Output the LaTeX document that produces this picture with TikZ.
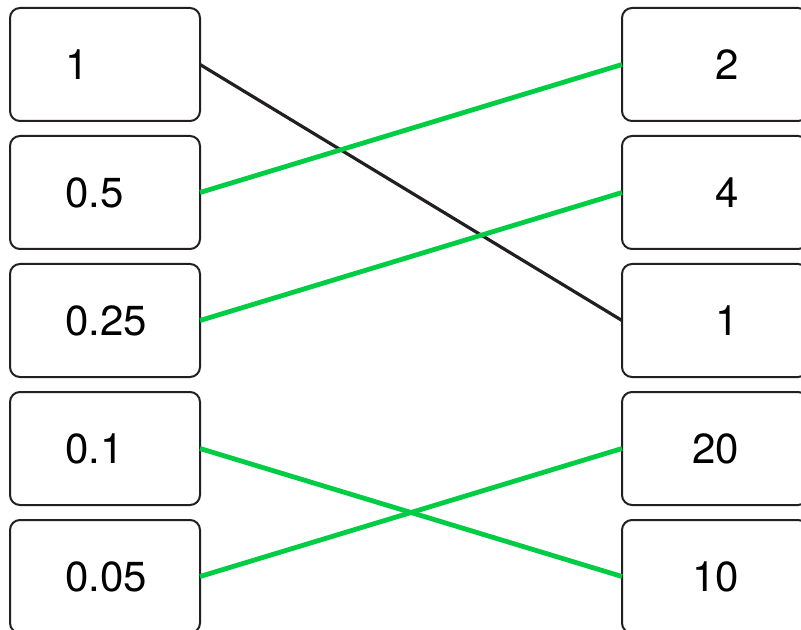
\documentclass[tikz,border=0pt]{standalone}
\usepackage{fontspec}
\setmainfont{TeX Gyre Heros}
\usetikzlibrary{positioning}
\definecolor{verdeLinea}{RGB}{0,204,68}
\definecolor{bordeCaja}{RGB}{35,31,32}

\begin{document}
\begin{tikzpicture}[
    cajaIzq/.style={draw=bordeCaja, line width=1pt, rounded corners=5pt, outer sep=0pt,
        minimum height=56.5pt, text width=40pt, inner xsep=27.5pt, align=left,
        font=\fontsize{21}{25}\selectfont},
    cajaDer/.style={draw=bordeCaja, line width=1pt, rounded corners=5pt, outer sep=0pt,
        minimum height=56.5pt, text width=24pt, inner xsep=34.5pt, align=right,
        font=\fontsize{21}{25}\selectfont},
    lineaVerde/.style={draw=verdeLinea, line width=2.4pt},
    lineaNegra/.style={draw=bordeCaja, line width=1.6pt}
]
            \useasboundingbox (0,0) rectangle (400.5pt,-315pt);
            \clip (0,0) rectangle (400.5pt,-315pt);

            % COLUMNA IZQUIERDA
            \node[cajaIzq] (izq1) at (52.5pt,-32.25pt) {1};
            \node[cajaIzq, below=7.5pt of izq1] (izq2) {0.5};
            \node[cajaIzq, below=7.5pt of izq2] (izq3) {0.25};
            \node[cajaIzq, below=7.5pt of izq3] (izq4) {0.1};
            \node[cajaIzq, below=7.5pt of izq4] (izq5) {0.05};

            % COLUMNA DERECHA
            \node[cajaDer, right=211pt of izq1] (der1) {2};
            \node[cajaDer, right=211pt of izq2] (der2) {4};
            \node[cajaDer, right=211pt of izq3] (der3) {1};
            \node[cajaDer, right=211pt of izq4] (der4) {20};
            \node[cajaDer, right=211pt of izq5] (der5) {10};

            % UNIONES
            \draw[lineaNegra] (izq1.east) -- (der3.west);
            \draw[lineaVerde] (izq2.east) -- (der1.west);
            \draw[lineaVerde] (izq3.east) -- (der2.west);
            \draw[lineaVerde] (izq4.east) -- (der5.west);
            \draw[lineaVerde] (izq5.east) -- (der4.west);
\end{tikzpicture}
\end{document}
